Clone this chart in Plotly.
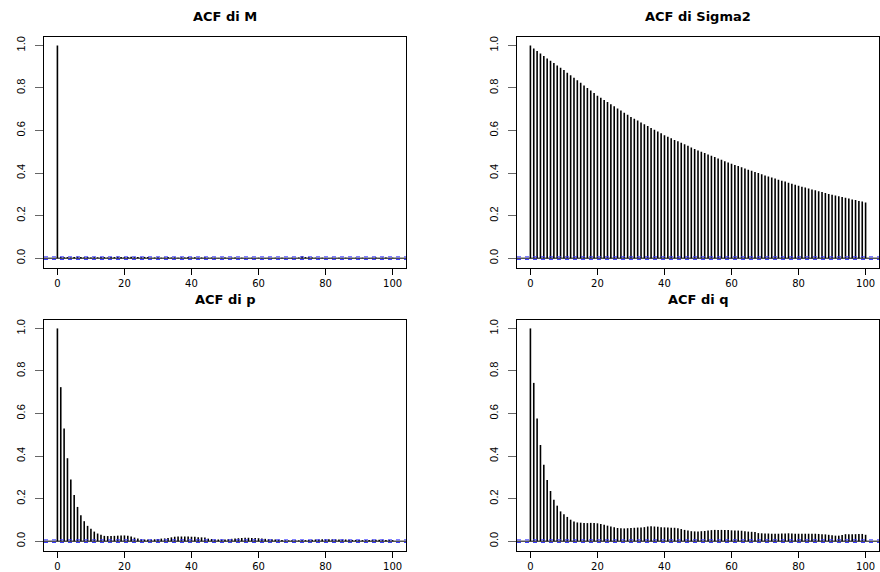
import plotly.graph_objects as go

titles = ["ACF di M", "ACF di Sigma2", "ACF di p", "ACF di q"]

acf_M = [1.0,
    0.006, 0.004, 0.005, 0.003, 0.006, 0.007, 0.005, 0.004, 0.006, 0.003,
    0.005, 0.004, 0.006, 0.005, 0.003, 0.006, 0.005, 0.007, 0.006, 0.005,
    0.006, 0.007, 0.005, 0.006, 0.004, 0.006, 0.005, 0.002, 0.003, 0.004,
    0.002, 0.003, 0.005, 0.003, 0.004, 0.002, 0.004, 0.003, 0.005, 0.003,
    0.004, 0.002, 0.003, 0.004, 0.002, 0.003, 0.002, 0.001, 0.002, 0.003,
    -0.001, 0.002, 0.003, 0.001, 0.002, -0.002, 0.001, 0.002, 0.001, 0.002,
    0.001, -0.001, 0.002, 0.001, 0.002, 0.001, 0.002, -0.001, 0.001, 0.002,
    0.001, 0.003, 0.009, 0.005, 0.004, 0.003, 0.002, 0.001, 0.002, 0.001,
    -0.001, 0.002, 0.001, 0.002, 0.001, 0.002, -0.001, 0.001, 0.002, 0.001,
    0.002, 0.001, -0.001, 0.002, 0.003, 0.001, 0.002, 0.003, 0.001, 0.002]

acf_Sigma2 = [1.0,
    0.986, 0.974, 0.962, 0.950, 0.939, 0.928, 0.917, 0.906, 0.895, 0.884,
    0.872, 0.860, 0.848, 0.836, 0.824, 0.812, 0.800, 0.788, 0.776, 0.764,
    0.754, 0.744, 0.734, 0.724, 0.714, 0.704, 0.694, 0.684, 0.674, 0.664,
    0.655, 0.647, 0.638, 0.630, 0.621, 0.612, 0.604, 0.595, 0.587, 0.578,
    0.571, 0.564, 0.556, 0.549, 0.542, 0.535, 0.528, 0.520, 0.513, 0.506,
    0.500, 0.494, 0.487, 0.481, 0.475, 0.469, 0.463, 0.456, 0.450, 0.444,
    0.438, 0.433, 0.427, 0.422, 0.416, 0.411, 0.405, 0.400, 0.394, 0.389,
    0.384, 0.379, 0.374, 0.369, 0.364, 0.360, 0.355, 0.350, 0.345, 0.340,
    0.336, 0.332, 0.327, 0.323, 0.319, 0.315, 0.311, 0.306, 0.302, 0.298,
    0.294, 0.291, 0.287, 0.284, 0.280, 0.276, 0.273, 0.269, 0.266, 0.262]

acf_p = [1.0,
    0.724, 0.530, 0.390, 0.290, 0.217, 0.161, 0.122, 0.094, 0.072, 0.058,
    0.045, 0.036, 0.030, 0.025, 0.024, 0.024, 0.025, 0.026, 0.027, 0.027,
    0.026, 0.022, 0.017, 0.012, 0.009, 0.008, 0.008, 0.008, 0.009, 0.010,
    0.012, 0.013, 0.015, 0.018, 0.021, 0.022, 0.022, 0.022, 0.022, 0.021,
    0.021, 0.019, 0.018, 0.017, 0.012, 0.010, 0.008, 0.008, 0.008, 0.008,
    0.010, 0.011, 0.012, 0.014, 0.015, 0.016, 0.016, 0.015, 0.015, 0.014,
    0.012, 0.011, 0.010, 0.009, 0.008, 0.007, 0.005, 0.004, 0.004, 0.004,
    0.004, 0.004, 0.005, 0.005, 0.006, 0.007, 0.008, 0.008, 0.009, 0.009,
    0.009, 0.009, 0.009, 0.008, 0.008, 0.008, 0.007, 0.006, 0.006, 0.005,
    0.005, 0.005, 0.006, 0.007, 0.007, 0.007, 0.007, 0.006, 0.006, 0.005]

acf_q = [1.0,
    0.744, 0.577, 0.452, 0.359, 0.287, 0.236, 0.195, 0.167, 0.140, 0.126,
    0.114, 0.101, 0.092, 0.088, 0.087, 0.086, 0.085, 0.086, 0.086, 0.084,
    0.081, 0.077, 0.073, 0.069, 0.065, 0.062, 0.061, 0.060, 0.061, 0.062,
    0.063, 0.064, 0.064, 0.066, 0.069, 0.070, 0.069, 0.068, 0.066, 0.065,
    0.064, 0.063, 0.063, 0.061, 0.057, 0.053, 0.050, 0.047, 0.046, 0.046,
    0.047, 0.048, 0.050, 0.052, 0.053, 0.053, 0.053, 0.052, 0.052, 0.051,
    0.050, 0.050, 0.049, 0.047, 0.045, 0.044, 0.043, 0.038, 0.037, 0.036,
    0.036, 0.035, 0.035, 0.035, 0.036, 0.036, 0.037, 0.036, 0.035, 0.035,
    0.035, 0.035, 0.035, 0.035, 0.035, 0.034, 0.033, 0.032, 0.030, 0.028,
    0.026, 0.026, 0.029, 0.033, 0.033, 0.032, 0.033, 0.034, 0.034, 0.030]

conf_limit = 0.0062
x_ticks = [0, 20, 40, 60, 80, 100]
y_ticks = [0.0, 0.2, 0.4, 0.6, 0.8, 1.0]
y_tick_text = ["0.0", "0.2", "0.4", "0.6", "0.8", "1.0"]

series = [acf_M, acf_Sigma2, acf_p, acf_q]

W, H = 880, 572
x_domains = [[44 / W, 406 / W], [517 / W, 879 / W]]
y_domains = [[1 - 268 / H, 1 - 36 / H], [1 - 552 / H, 1 - 320 / H]]
title_y = [1 - 16 / H, 1 - 300 / H]

fig = go.Figure()
layout = dict(
    width=W, height=H,
    margin=dict(l=0, r=0, t=0, b=0),
    paper_bgcolor="white", plot_bgcolor="white",
    showlegend=False,
    shapes=[], annotations=[],
)

for i, vals in enumerate(series):
    row, col = divmod(i, 2)
    n = i + 1
    xa = "x" if n == 1 else f"x{n}"
    ya = "y" if n == 1 else f"y{n}"
    xs, ys = [], []
    for lag, v in enumerate(vals):
        xs += [lag, lag, None]
        ys += [0, v, None]
    fig.add_trace(go.Scatter(x=xs, y=ys, mode="lines",
                             line=dict(color="black", width=1.6),
                             xaxis=xa, yaxis=ya, hoverinfo="skip"))
    layout[f"xaxis{'' if n == 1 else n}"] = dict(
        domain=x_domains[col], anchor=ya, range=[-4, 104],
        tickvals=x_ticks, ticks="outside", ticklen=6, tickcolor="black",
        showline=True, mirror=True, linecolor="black", linewidth=1,
        showgrid=False, zeroline=False,
        tickfont=dict(family="DejaVu Sans", size=10, color="black"),
    )
    layout[f"yaxis{'' if n == 1 else n}"] = dict(
        domain=y_domains[row], anchor=xa, range=[-0.0465, 1.0402],
        tickvals=y_ticks, ticktext=y_tick_text, tickangle=-90,
        ticks="outside", ticklen=8, tickcolor="#666",
        ticklabelstandoff=6,
        showline=True, mirror=True, linecolor="black", linewidth=1,
        showgrid=False, zeroline=False,
        tickfont=dict(family="Liberation Sans Narrow, Liberation Sans, Arial", size=11, color="black"),
    )
    xd = f"{xa} domain"
    layout["shapes"].append(dict(type="line", xref=xd, yref=ya, x0=0, x1=1, y0=0, y1=0,
                                 line=dict(color="black", width=1)))
    for s in (1, -1):
        layout["shapes"].append(dict(type="line", xref=xd, yref=ya, x0=0, x1=1,
                                     y0=s * conf_limit, y1=s * conf_limit,
                                     line=dict(color="#3b3bff", width=1, dash="4px,4px")))
    layout["annotations"].append(dict(
        text=f"<b>{titles[i]}</b>", xref="paper", yref="paper",
        x=sum(x_domains[col]) / 2, y=title_y[row], xanchor="center", yanchor="middle",
        showarrow=False, font=dict(family="DejaVu Sans", size=13, color="black")))

fig.update_layout(**layout)
fig.write_html("out.html")
